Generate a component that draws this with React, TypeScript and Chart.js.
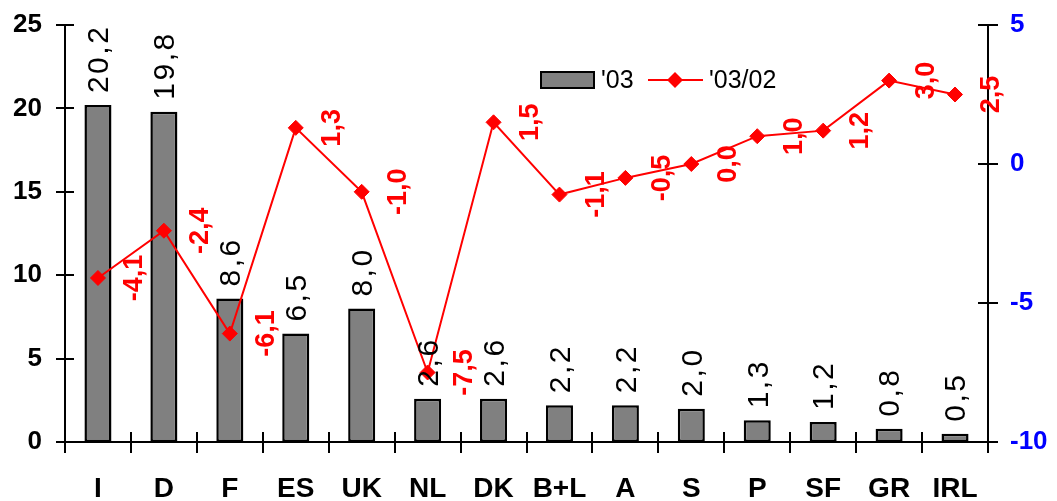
import React, { useEffect, useRef } from "react";
import { Chart, registerables } from "chart.js";

Chart.register(...registerables);

const categories = ["I", "D", "F", "ES", "UK", "NL", "DK", "B+L", "A", "S", "P", "SF", "GR", "IRL"];
const share03 = [20.2, 19.8, 8.6, 6.5, 8.0, 2.6, 2.6, 2.2, 2.2, 2.0, 1.3, 1.2, 0.8, 0.5];
const change0302 = [-4.1, -2.4, -6.1, 1.3, -1.0, -7.5, 1.5, -1.1, -0.5, 0.0, 1.0, 1.2, 3.0, 2.5];
const seriesLabels = ["'03", "'03/02"];
const leftTicks = { min: 0, max: 25, step: 5 };
const rightTicks = { min: -10, max: 5, step: 5 };

const FONT = 'Arial, "Liberation Sans", sans-serif';
const BAR_FILL = "#808080";
const RED = "#FF0000";

const fmt = (v: number) => v.toFixed(1).replace(".", ",");

const decorPlugin = {
  id: "decor",
  afterDatasetsDraw(chart: any) {
    const ctx = chart.ctx;
    const area = chart.chartArea;
    const xs = chart.scales.x;
    const ys = chart.scales.y;
    const y1 = chart.scales.y1;
    ctx.save();
    ctx.strokeStyle = "#000";
    ctx.lineWidth = 2;
    ys.ticks.forEach((t: any) => {
      const py = Math.round(ys.getPixelForValue(t.value));
      ctx.beginPath();
      ctx.moveTo(area.left - 9, py);
      ctx.lineTo(area.left + 9, py);
      ctx.stroke();
    });
    y1.ticks.forEach((t: any) => {
      const py = Math.round(y1.getPixelForValue(t.value));
      ctx.beginPath();
      ctx.moveTo(area.right - 10, py);
      ctx.lineTo(area.right + 10, py);
      ctx.stroke();
    });
    const half = (xs.getPixelForValue(1) - xs.getPixelForValue(0)) / 2;
    for (let i = 0; i <= categories.length; i++) {
      const px = Math.round(xs.getPixelForValue(i) - half);
      ctx.beginPath();
      ctx.moveTo(px, area.bottom - 10);
      ctx.lineTo(px, area.bottom + 11);
      ctx.stroke();
    }
    ctx.restore();

    // bar labels
    const barMeta = chart.getDatasetMeta(0);
    ctx.save();
    ctx.fillStyle = "#000";
    ctx.font = `30px ${FONT}`;
    (ctx as any).letterSpacing = "2.5px";
    ctx.textAlign = "left";
    ctx.textBaseline = "middle";
    barMeta.data.forEach((el: any, i: number) => {
      ctx.save();
      ctx.translate(el.x + 2, el.y - 12);
      ctx.rotate(-Math.PI / 2);
      ctx.fillText(fmt(share03[i]), 0, 0);
      ctx.restore();
    });
    ctx.restore();

    // line labels
    const lineMeta = chart.getDatasetMeta(1);
    ctx.save();
    ctx.fillStyle = RED;
    ctx.font = `bold 27px ${FONT}`;
    ctx.textAlign = "center";
    ctx.textBaseline = "middle";
    lineMeta.data.forEach((el: any, i: number) => {
      ctx.save();
      ctx.translate(el.x + 37, el.y);
      ctx.rotate(-Math.PI / 2);
      ctx.fillText(fmt(change0302[i]), 0, 0);
      ctx.restore();
    });
    ctx.restore();

    // legend
    ctx.save();
    const ly = 80;
    ctx.fillStyle = BAR_FILL;
    ctx.fillRect(541, 72, 53, 16);
    ctx.strokeStyle = "#000";
    ctx.lineWidth = 2;
    ctx.strokeRect(541, 72, 53, 16);
    ctx.fillStyle = "#000";
    ctx.font = `25px ${FONT}`;
    ctx.textAlign = "left";
    ctx.textBaseline = "middle";
    ctx.fillText(seriesLabels[0], 601, ly + 1);
    ctx.strokeStyle = RED;
    ctx.beginPath();
    ctx.moveTo(648, ly);
    ctx.lineTo(703, ly);
    ctx.stroke();
    ctx.fillStyle = RED;
    ctx.beginPath();
    ctx.moveTo(675 - 8, ly);
    ctx.lineTo(675, ly - 8);
    ctx.lineTo(675 + 8, ly);
    ctx.lineTo(675, ly + 8);
    ctx.closePath();
    ctx.fill();
    ctx.fillStyle = "#000";
    ctx.fillText(seriesLabels[1], 709, ly + 1);
    ctx.restore();
  },
};

export default function App() {
  const ref = useRef<HTMLCanvasElement | null>(null);
  useEffect(() => {
    if (!ref.current) return;
    const chart = new Chart(ref.current, {
      type: "bar",
      data: {
        labels: categories,
        datasets: [
          {
            type: "bar",
            label: seriesLabels[0],
            data: share03,
            backgroundColor: BAR_FILL,
            borderColor: "#000",
            borderWidth: 2.5,
            borderSkipped: false,
            barPercentage: 0.41,
            categoryPercentage: 1,
            yAxisID: "y",
            order: 2,
          } as any,
          {
            type: "line",
            label: seriesLabels[1],
            data: change0302,
            borderColor: RED,
            backgroundColor: RED,
            borderWidth: 2,
            pointStyle: "rectRot",
            pointRadius: 7.5,
            pointBorderWidth: 1,
            pointBackgroundColor: RED,
            pointBorderColor: RED,
            yAxisID: "y1",
            order: 1,
          } as any,
        ],
      },
      options: {
        responsive: false,
        animation: false,
        layout: { padding: { top: 25, left: 0, right: 0, bottom: 0 } },
        plugins: { legend: { display: false }, tooltip: { enabled: false } },
        scales: {
          x: {
            offset: true,
            grid: { display: false, drawTicks: false },
            border: { display: true, color: "#000", width: 2 },
            ticks: { color: "#000", font: { family: FONT, size: 28, weight: "bold" }, padding: 30, maxRotation: 0, autoSkip: false },
            afterFit: (s: any) => { s.height = 59; s.paddingLeft = 0; s.paddingRight = 0; },
          },
          y: {
            position: "left",
            min: leftTicks.min,
            max: leftTicks.max,
            ticks: { stepSize: leftTicks.step, color: "#000", font: { family: FONT, size: 26, weight: "bold" }, padding: 23 },
            grid: { display: false, drawTicks: false },
            border: { display: true, color: "#000", width: 2 },
            afterFit: (s: any) => { s.width = 65; s.paddingTop = 0; s.paddingBottom = 0; },
          },
          y1: {
            position: "right",
            min: rightTicks.min,
            max: rightTicks.max,
            ticks: { stepSize: rightTicks.step, color: "#0000FF", font: { family: FONT, size: 26, weight: "bold" }, padding: 22 },
            grid: { display: false, drawTicks: false },
            border: { display: true, color: "#000", width: 2 },
            afterFit: (s: any) => { s.width = 69; s.paddingTop = 0; s.paddingBottom = 0; },
          },
        },
      },
      plugins: [decorPlugin],
    });
    return () => chart.destroy();
  }, []);
  return (
    <div style={{ position: "fixed", left: 0, top: 0, width: 1057, height: 501, background: "#fff" }}>
      <canvas ref={ref} width={1057} height={501} style={{ display: "block" }} />
    </div>
  );
}
